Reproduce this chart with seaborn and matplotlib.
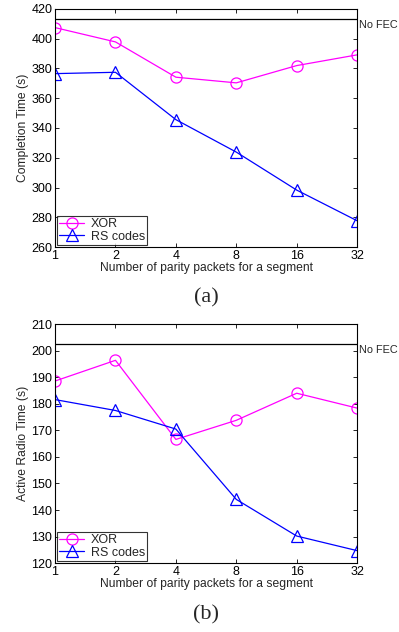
import numpy as np
import matplotlib
matplotlib.use("Agg")
import matplotlib.pyplot as plt
import seaborn as sns
import pandas as pd

# parity packets per segment
parity = [1, 2, 4, 8, 16, 32]

# (a) completion time
xor_completion = [407.4, 397.8, 374.1, 370.3, 381.9, 389.1]
rs_completion = [376.5, 377.4, 345.6, 323.8, 298.3, 277.7]
nofec_completion = 413.0

# (b) active radio time
xor_radio = [188.6, 196.4, 166.6, 173.8, 184.0, 178.4]
rs_radio = [181.6, 177.5, 170.5, 144.0, 130.2, 124.7]
nofec_radio = 202.6

sns.set_theme(style="ticks")
plt.rcParams['font.family'] = ['Liberation Sans', 'DejaVu Sans']

fig = plt.figure(figsize=(3.99, 6.32), dpi=100)
ax_a = fig.add_axes([0.138, 0.609, 0.757, 0.377])
ax_b = fig.add_axes([0.138, 0.109, 0.757, 0.378])


def draw_panel(ax, xor_vals, rs_vals, nofec, ylim, yticks, ylabel, caption):
    df = pd.DataFrame({'parity': parity * 2,
                       'value': xor_vals + rs_vals,
                       'method': ['XOR'] * 6 + ['RS codes'] * 6})
    sns.lineplot(data=df, x='parity', y='value', hue='method', style='method',
                 palette={'XOR': '#ff00ff', 'RS codes': '#0000ff'},
                 markers={'XOR': 'o', 'RS codes': '^'},
                 dashes=False, markersize=8, markerfacecolor='none',
                 markeredgewidth=0.9, linewidth=0.9, ax=ax)
    for line in ax.get_lines():
        line.set_markeredgecolor(line.get_color())
        line.set_markerfacecolor('none')
    ax.axhline(nofec, color='black', linewidth=0.9)
    ax.text(1.005, nofec - (ylim[1] - ylim[0]) * 0.005, 'No FEC',
            transform=ax.get_yaxis_transform(), ha='left', va='top', fontsize=7.8)
    ax.set_xscale('log', base=2)
    ax.set_xlim(1, 32)
    ax.set_xticks(parity)
    ax.set_xticklabels([str(p) for p in parity])
    ax.minorticks_off()
    ax.set_ylim(*ylim)
    ax.set_yticks(yticks)
    ax.tick_params(direction='in', length=3, width=0.6, labelsize=9,
                   top=True, right=True, pad=2, colors='black')
    for s in ax.spines.values():
        s.set_visible(True)
        s.set_linewidth(0.8)
        s.set_color('black')
    ax.set_xlabel('Number of parity packets for a segment', fontsize=8.7, labelpad=0)
    ax.set_ylabel(ylabel, fontsize=8.7, labelpad=2)
    handles, labels = ax.get_legend_handles_labels()
    leg = ax.legend(handles, labels, loc='lower left', fontsize=9,
                    frameon=True, fancybox=False, edgecolor='black',
                    borderpad=0.2, labelspacing=0.05, handlelength=2.0,
                    handletextpad=0.5, borderaxespad=0.15)
    leg.get_frame().set_linewidth(0.8)
    ax.text(0.5, -0.215, caption, transform=ax.transAxes, ha='center', va='center',
            fontsize=16, family=['Liberation Serif', 'DejaVu Serif'])


draw_panel(ax_a, xor_completion, rs_completion, nofec_completion,
           (260, 420), np.arange(260, 421, 20), 'Completion Time (s)', '(a)')
draw_panel(ax_b, xor_radio, rs_radio, nofec_radio,
           (120, 210), np.arange(120, 211, 10), 'Active Radio Time (s)', '(b)')

fig.savefig('out.png', dpi=100)
